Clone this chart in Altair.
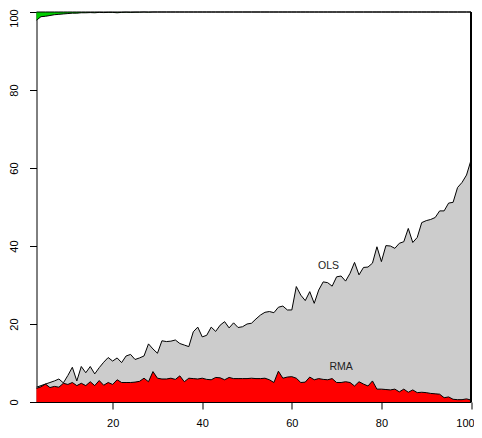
import altair as alt
import pandas as pd

x_vals = list(range(3, 101))

ols = [3.8, 4.2, 4.6, 5.0, 5.4, 5.9, 4.9, 6.8, 8.9, 5.4,
       9.1, 7.5, 9.1, 7.2, 8.8, 10.2, 11.4, 10.5, 11.3, 10.1,
       11.8, 12.2, 10.9, 11.3, 11.8, 14.9, 13.6, 12.5, 15.7, 15.5,
       15.6, 15.9, 15.0, 14.6, 14.2, 18.0, 19.2, 16.7, 17.1, 19.2,
       18.1, 19.7, 20.6, 19.0, 20.3, 19.1, 19.3, 20.0, 20.2, 21.3,
       22.3, 23.0, 23.2, 22.9, 24.3, 24.6, 23.6, 23.6, 29.6, 27.4,
       26.0, 28.3, 25.3, 28.7, 30.8, 30.6, 29.7, 32.1, 32.3, 31.0,
       33.0, 35.8, 32.6, 34.5, 34.6, 35.6, 39.8, 36.0, 40.1, 40.0,
       39.4, 40.7, 41.1, 44.5, 40.9, 42.2, 46.0, 46.5, 46.8, 47.3,
       49.0, 49.0, 51.0, 51.2, 55.0, 56.3, 58.2, 62.0]

rma = [3.5, 3.9, 4.6, 3.7, 4.0, 3.8, 4.8, 4.5, 5.0, 4.2,
       4.8, 4.2, 5.2, 4.2, 5.5, 4.3, 5.0, 4.5, 5.7, 5.0,
       5.0, 5.0, 5.1, 5.3, 6.1, 5.2, 7.8, 6.1, 5.9, 5.9,
       6.1, 5.8, 6.7, 5.2, 6.1, 6.0, 5.9, 6.1, 5.8, 5.7,
       6.3, 6.2, 5.7, 6.3, 6.0, 6.0, 6.0, 6.0, 6.1, 6.0,
       6.0, 6.1, 5.7, 5.0, 7.9, 6.1, 6.4, 6.5, 6.1, 5.0,
       5.1, 6.4, 5.7, 6.0, 5.8, 5.7, 6.0, 5.0, 5.0, 5.2,
       5.0, 4.1, 5.2, 4.6, 4.1, 5.4, 3.3, 3.3, 3.2, 3.1,
       3.3, 2.6, 3.3, 2.5, 3.1, 2.4, 2.5, 2.4, 2.2, 2.1,
       2.0, 1.1, 1.3, 0.7, 0.6, 0.6, 0.8, 0.5]

green_low = [97.9, 98.8, 98.9, 99.1, 99.3, 99.4, 99.5, 99.6, 99.7, 99.7,
             99.8, 99.8, 99.85, 99.8, 99.9, 99.85, 99.9, 99.9, 99.8, 99.9,
             99.95, 99.9, 99.95, 99.95, 100, 99.95, 100, 100, 100, 100] + [100] * 68

top_vals = [100] * len(x_vals)

label_text = ["OLS", "RMA"]
label_x = [68.2, 71.0]
label_y = [34.8, 8.85]

n = min(len(x_vals), len(ols), len(rma), len(green_low))
df = pd.DataFrame({
    "x": x_vals[:n],
    "ols": ols[:n],
    "rma": rma[:n],
    "g": green_low[:n],
    "top": top_vals[:n],
})
labels = pd.DataFrame({"t": label_text, "x": label_x, "y": label_y})

xs = alt.Scale(domain=[3, 100], nice=False, zero=False)
ys = alt.Scale(domain=[0, 100], nice=False, zero=False)

font = "Liberation Sans"

xaxis = alt.Axis(values=[20, 40, 60, 80, 100], title=None, grid=False,
                 domainColor="black", tickColor="black", tickSize=7,
                 labelFont=font, labelFontSize=11, labelColor="black",
                 labelPadding=8, labelFlush=False,
                 labelOffset={"condition": {"test": "datum.value == 100", "value": -6}, "value": 0})
yaxis = alt.Axis(values=[0, 20, 40, 60, 80, 100], title=None, grid=False,
                 domainColor="black", tickColor="black", tickSize=7,
                 labelFont=font, labelFontSize=11, labelColor="black",
                 labelAngle=270, labelAlign="center", labelBaseline="alphabetic",
                 labelPadding=12, labelFlush=False,
                 labelOffset={"condition": {"test": "datum.value == 100", "value": 6}, "value": 0})

base = alt.Chart(df)

gray = base.mark_area(color="#cccccc", opacity=1).encode(
    x=alt.X("x:Q", scale=xs, axis=xaxis),
    y=alt.Y("ols:Q", scale=ys, axis=yaxis),
)
red = base.mark_area(color="#ff0000", opacity=1).encode(
    x=alt.X("x:Q", scale=xs), y=alt.Y("rma:Q", scale=ys))
green = base.mark_area(color="#00cd00", opacity=1).encode(
    x=alt.X("x:Q", scale=xs), y=alt.Y("g:Q", scale=ys), y2=alt.Y2("top:Q"))

def line(col):
    return base.mark_line(color="black", strokeWidth=1).encode(
        x=alt.X("x:Q", scale=xs), y=alt.Y(f"{col}:Q", scale=ys))

right_edge = base.mark_rule(color="black", strokeWidth=1).encode(
    x=alt.datum(100), y=alt.datum(0), y2=alt.datum(100))

texts = alt.Chart(labels).mark_text(font=font, fontSize=10.5, color="#222222").encode(
    x=alt.X("x:Q", scale=xs), y=alt.Y("y:Q", scale=ys), text="t:N")

chart = alt.layer(
    gray, red, green, line("ols"), line("rma"), line("g"), line("top"),
    right_edge, texts
).properties(
    width=434.5, height=390,
    autosize=alt.AutoSizeParams(type="none"),
    padding={"left": 28.5, "top": 4, "right": 3, "bottom": 28},
).configure_view(strokeWidth=0)

chart.save("out.html", embed_options={"renderer": "svg", "actions": False})
